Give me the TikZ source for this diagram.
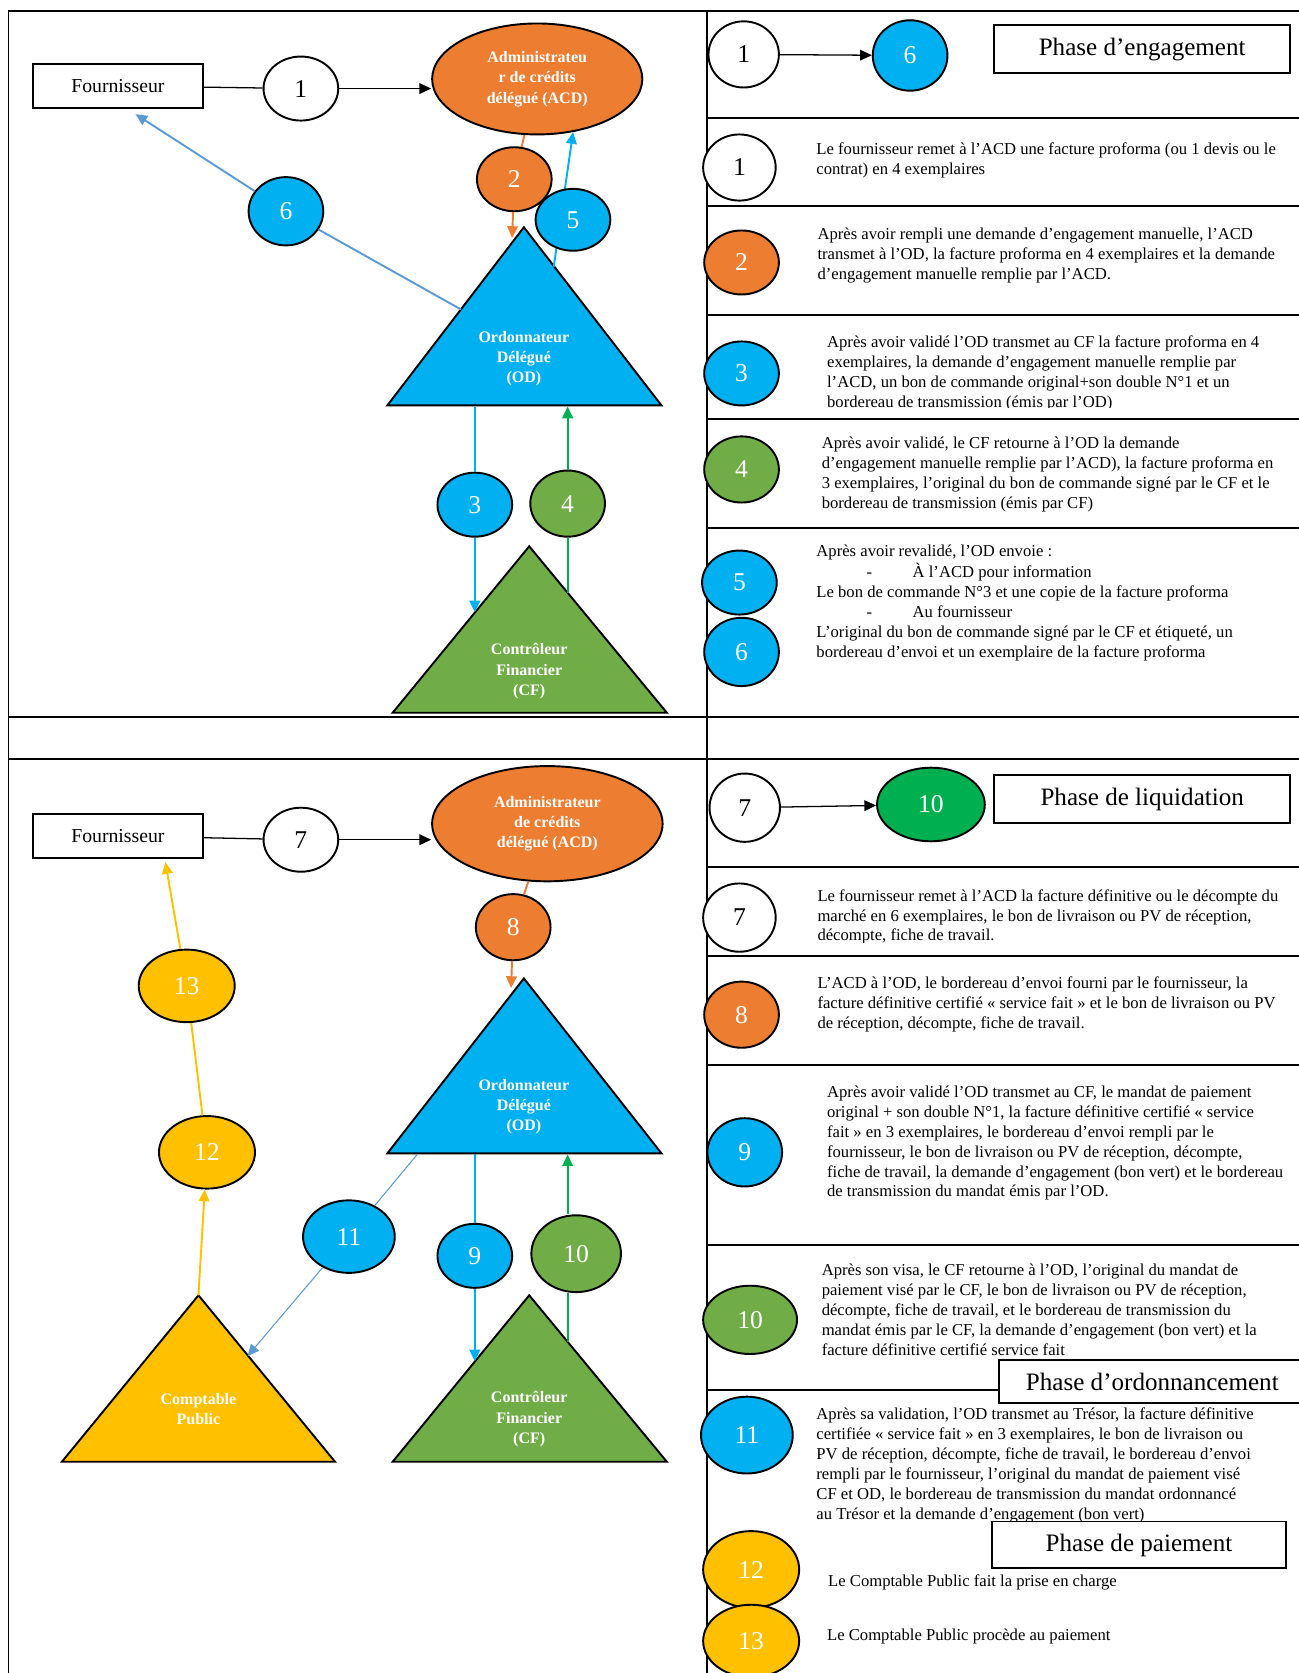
\documentclass[tikz,border=0pt]{standalone}
\usepackage{fontspec}
\setmainfont{Liberation Serif}
\usetikzlibrary{shapes.geometric,arrows.meta}
\definecolor{cOrange}{HTML}{ED7D31}
\definecolor{cBlue}{HTML}{00B0F0}
\definecolor{cGreen}{HTML}{70AD47}
\definecolor{cBright}{HTML}{00B050}
\definecolor{cYellow}{HTML}{FFC000}
\definecolor{cSteel}{HTML}{5B9BD5}
\tikzset{
  tbl/.style={line width=1.8pt, line cap=rect},
  num/.style={ellipse, draw=black, line width=1.8pt, inner sep=0pt, text=white, font=\fontsize{24}{24}\selectfont},
  wnum/.style={num, fill=white, text=black},
  onum/.style={num, fill=cOrange},
  bnum/.style={num, fill=cBlue},
  gnum/.style={num, fill=cGreen},
  vnum/.style={num, fill=cBright},
  ynum/.style={num, fill=cYellow},
  sz/.style 2 args={minimum width=#1pt, minimum height=#2pt},
  para/.style={anchor=north west, inner sep=0pt, align=left, font=\fontsize{15.6}{18.6}\selectfont},
  phase/.style={draw, line width=1.8pt, fill=white, inner sep=0pt, font=\fontsize{23.5}{23.5}\selectfont},
  supplier/.style={draw, line width=1.8pt, fill=white, minimum width=159pt, minimum height=41pt, inner sep=0pt, font=\fontsize{18.5}{18.5}\selectfont},
  actor/.style={ellipse, draw, line width=1.8pt, fill=cOrange, text=white, align=center, inner sep=0pt, font=\bfseries\fontsize{15}{19}\selectfont},
  tri/.style={draw=black, line width=1.8pt, line join=miter},
  trilabel/.style={text=white, align=center, inner sep=0pt, font=\bfseries\fontsize{15}{19}\selectfont},
  conn/.style={line width=1.8pt},
  conn1/.style={line width=1pt},
  thinl/.style={line width=1.2pt, draw=black},
  arr/.style={-{Triangle[length=11pt,width=10pt]}},
}
\begin{document}
\begin{tikzpicture}[x=1pt,y=-1pt]
\useasboundingbox (0,0) rectangle (1217,1568);
% ---------- table ----------
\draw[tbl] (8,1570) -- (8,10) -- (1220,10);
\draw[tbl] (663,10) -- (663,1570);
\foreach \yy in {111,193,295,393,495,813,896,998,1167,1303}
  \draw[tbl] (663,\yy) -- (1220,\yy);
\draw[tbl] (8,672) -- (1220,672);
\draw[tbl] (8,711) -- (1220,711);

% ---------- right column texts ----------
\node[para] (t1) at (765,131.5) {\strut Le fournisseur remet à l’ACD une facture proforma (ou 1 devis ou le\\contrat) en 4 exemplaires};
\node[para] (t2) at (766,211.5) {\strut Après avoir rempli une demande d’engagement manuelle, l’ACD\\transmet à l’OD, la facture proforma en 4 exemplaires et la demande\\d’engagement manuelle remplie par l’ACD.};
\begin{scope}
\clip (663,296) rectangle (1217,382);
\node[para] (t3) at (775,312.5) {\strut Après avoir validé l’OD transmet au CF la facture proforma en 4\\exemplaires, la demande d’engagement manuelle remplie par\\l’ACD, un bon de commande original+son double N°1 et un\\bordereau de transmission (émis par l’OD)};
\end{scope}
\node[para] (t4) at (770,407.5) {\strut Après avoir validé, le CF retourne à l’OD la demande\\d’engagement manuelle remplie par l’ACD), la facture proforma en\\3 exemplaires, l’original du bon de commande signé par le CF et le\\bordereau de transmission (émis par CF)};
\node[para] (t5) at (765,508.5) {\strut Après avoir revalidé, l’OD envoie :\\\hspace*{47pt}-\hspace*{38pt}À l’ACD pour information\\Le bon de commande N°3 et une copie de la facture proforma\\\hspace*{47pt}-\hspace*{38pt}Au fournisseur\\L’original du bon de commande signé par le CF et étiqueté, un\\bordereau d’envoi et un exemplaire de la facture proforma};
\begin{scope}
\clip (663,814) rectangle (1217,883);
\node[para] (t7) at (766,831.5) {\strut Le fournisseur remet à l’ACD la facture définitive ou le décompte du\\marché en 6 exemplaires, le bon de livraison ou PV de réception,\\décompte, fiche de travail.};
\end{scope}
\node[para] (t8) at (766,913.5) {\strut L’ACD à l’OD, le bordereau d’envoi fourni par le fournisseur, la\\facture définitive certifié « service fait » et le bon de livraison ou PV\\de réception, décompte, fiche de travail.};
\node[para] (t9) at (775,1015.5) {\strut Après avoir validé l’OD transmet au CF, le mandat de paiement\\original + son double N°1, la facture définitive certifié « service\\fait » en 3 exemplaires, le bordereau d’envoi rempli par le\\fournisseur, le bon de livraison ou PV de réception, décompte,\\fiche de travail, la demande d’engagement (bon vert) et le bordereau\\de transmission du mandat émis par l’OD.};
\node[para] (t10) at (770,1182.5) {\strut Après son visa, le CF retourne à l’OD, l’original du mandat de\\paiement visé par le CF, le bon de livraison ou PV de réception,\\décompte, fiche de travail, et le bordereau de transmission du\\mandat émis par le CF, la demande d’engagement (bon vert) et la\\facture définitive certifié service fait};
\node[para] (t11) at (765,1317.5) {\strut Après sa validation, l’OD transmet au Trésor, la facture définitive\\certifiée « service fait » en 3 exemplaires, le bon de livraison ou\\PV de réception, décompte, fiche de travail, le bordereau d’envoi\\rempli par le fournisseur, l’original du mandat de paiement visé\\CF et OD, le bordereau de transmission du mandat ordonnancé\\au Trésor et la demande d’engagement (bon vert)};
\node[para] (t12) at (776,1473.5) {\strut Le Comptable Public fait la prise en charge};
\node[para] (t13) at (775,1524.5) {\strut Le Comptable Public procède au paiement};

% ---------- right column circles ----------
\node[wnum, sz={66}{62}] (h1) at (697,51) {1};
\node[bnum, sz={70}{66}] (h6) at (853,52) {6};
\draw[thinl, arr] (h1) -- (h6);
\node[phase, minimum width=277pt, minimum height=45pt] (p1) at (1070.5,46) {Phase d’engagement};

\node[wnum, sz={68}{62}] (r1) at (693,157) {1};
\node[onum, sz={70}{60}] (r2) at (695,246) {2};
\node[bnum, sz={70}{60}] (r3) at (695,350) {3};
\node[gnum, sz={70}{62}] (r4) at (695,440) {4};
\node[bnum, sz={70}{60}] (r5) at (693,546) {5};
\node[bnum, sz={70}{64}] (r6) at (695,611) {6};

\node[wnum, sz={66}{64}] (h7) at (698,757) {7};
\node[vnum, sz={101}{69}] (h10) at (872.5,754) {10};
\draw[thinl, arr] (h7) -- (h10);
\node[phase, minimum width=277pt, minimum height=45pt] (p2) at (1070.5,749) {Phase de liquidation};

\node[wnum, sz={68}{64}] (r7) at (693,860) {7};
\node[onum, sz={70}{62}] (r8) at (695,951) {8};
\node[bnum, sz={70}{64}] (r9) at (698,1080) {9};
\node[gnum, sz={88}{64}] (r10) at (703,1237) {10};
\node[bnum, sz={86}{72}] (r11) at (700,1345) {11};
\node[ynum, sz={90}{72}] (r12) at (704,1471) {12};
\node[ynum, sz={90}{68}] (r13) at (704,1538) {13};
\node[phase, minimum width=288pt, minimum height=40pt] (p3) at (1080,1295) {Phase d’ordonnancement};
\node[phase, minimum width=275pt, minimum height=44pt] (p4) at (1067.5,1448) {Phase de paiement};

% ---------- top diagram ----------
\coordinate (od1a) at (491,213);
\coordinate (od1l) at (363,380);
\coordinate (od1r) at (620,380);
\coordinate (cf1a) at (496,512);
\coordinate (cf1l) at (368,668);
\coordinate (cf1r) at (625,668);
\filldraw[tri, fill=cBlue] (od1a) -- (od1l) -- (od1r) -- cycle;
\filldraw[tri, fill=cGreen] (cf1a) -- (cf1l) -- (cf1r) -- cycle;
\node[trilabel] (od1) at (491,336) {Ordonnateur\\Délégué\\(OD)};
\node[trilabel] (cf1) at (496,629) {Contrôleur\\Financier\\(CF)};

\node[supplier] (f1) at (110.5,80.5) {Fournisseur};
\node[wnum, sz={70}{60}] (n1a) at (282,83) {1};
\node[actor, minimum width=197pt, minimum height=104pt] (acd1) at (503.5,74) {Administrateu\\r de crédits\\délégué (ACD)};
\coordinate (od1out5) at (519,250);
% connector 5 runs under its number circle
\draw[conn, cBlue, arr] (od1out5) -- (acd1.-56);
\node[onum, sz={70}{60}] (n2a) at (482,168) {2};
\node[bnum, sz={70}{58}] (n5a) at (537,206) {5};
\node[bnum, sz={70}{64}] (n6a) at (268,198) {6};
\node[bnum, sz={70}{60}] (n3a) at (445,473) {3};
\node[gnum, sz={70}{62}] (n4a) at (532,472) {4};

\coordinate (od1in2) at (480,223);
\coordinate (od1out6) at (432,290);
\coordinate (f1in6) at (127,107);
\coordinate (od1b3) at (445,381);
\coordinate (cf1in3) at (445,574);
\coordinate (cf1out4) at (532,556);
\coordinate (od1b4) at (532,381);

\draw[thinl] (f1) -- (n1a);
\draw[thinl, arr] (n1a.east) -- (acd1.west |- n1a.east);
\draw[conn, cOrange] (acd1) -- (n2a);
\draw[conn, cOrange, arr] (n2a) -- (od1in2);
\draw[conn, cSteel] (od1out6) -- (n6a);
\draw[conn, cSteel, arr] (n6a) -- (f1in6);
\draw[conn, cBlue] (od1b3) -- (n3a);
\draw[conn, cBlue, arr] (n3a) -- (cf1in3);
\draw[conn, cBright] (cf1out4) -- (n4a);
\draw[conn, cBright, arr] (n4a) -- (od1b4);

% ---------- bottom diagram ----------
\coordinate (od2a) at (491,917);
\coordinate (od2l) at (363,1081);
\coordinate (od2r) at (620,1081);
\coordinate (cf2a) at (496,1214);
\coordinate (cf2l) at (368,1370);
\coordinate (cf2r) at (625,1370);
\coordinate (cpa) at (186,1214);
\coordinate (cpl) at (58,1370);
\coordinate (cpr) at (314,1370);
\filldraw[tri, fill=cBlue] (od2a) -- (od2l) -- (od2r) -- cycle;
\filldraw[tri, fill=cGreen] (cf2a) -- (cf2l) -- (cf2r) -- cycle;
\filldraw[tri, fill=cYellow] (cpa) -- (cpl) -- (cpr) -- cycle;
\node[trilabel] (od2) at (491,1037) {Ordonnateur\\Délégué\\(OD)};
\node[trilabel] (cf2) at (496,1330) {Contrôleur\\Financier\\(CF)};
\node[trilabel] (cp) at (186,1320.5) {Comptable\\Public};

\node[supplier] (f2) at (110.5,783.5) {Fournisseur};
\node[wnum, sz={70}{60}] (n7a) at (282,787) {7};
\node[actor, minimum width=216pt, minimum height=108pt] (acd2) at (513,772) {Administrateur\\de crédits\\délégué (ACD)};
\node[onum, sz={70}{62}] (n8a) at (481,869) {8};
\node[bnum, sz={70}{60}] (n9a) at (445,1177) {9};
\node[gnum, sz={84}{72}] (n10a) at (540,1175) {10};
\node[bnum, sz={86}{68}] (n11a) at (327,1159) {11};
\node[ynum, sz={90}{68}] (n12a) at (194,1080) {12};
\node[ynum, sz={90}{68}] (n13a) at (175,924) {13};

\coordinate (od2in8) at (479,926);
\coordinate (od2b9) at (445,1082);
\coordinate (cf2in9) at (445,1276);
\coordinate (cf2out10) at (532,1258);
\coordinate (od2b10) at (532,1082);
\coordinate (od2out11) at (391,1082);
\coordinate (cpin11) at (232,1271);
\coordinate (f2in13) at (155,808);

\draw[thinl] (f2) -- (n7a);
\draw[thinl, arr] (n7a.east) -- (acd2.west |- n7a.east);
\draw[conn, cOrange] (acd2) -- (n8a);
\draw[conn, cOrange, arr] (n8a) -- (od2in8);
\draw[conn, cBlue] (od2b9) -- (n9a);
\draw[conn, cBlue, arr] (n9a) -- (cf2in9);
\draw[conn, cBright] (cf2out10) -- (cf2out10 |- n10a.south);
\draw[conn, cBright, arr] (od2b10 |- n10a.north) -- (od2b10);
\draw[conn1, cSteel] (od2out11) -- (n11a);
\draw[conn1, cSteel, arr] (n11a) -- (cpin11);
\draw[conn, cYellow, arr] (cpa) -- (n12a);
\draw[conn, cYellow] (n12a) -- (n13a);
\draw[conn, cYellow, arr] (n13a) -- (f2in13);
\end{tikzpicture}
\end{document}
